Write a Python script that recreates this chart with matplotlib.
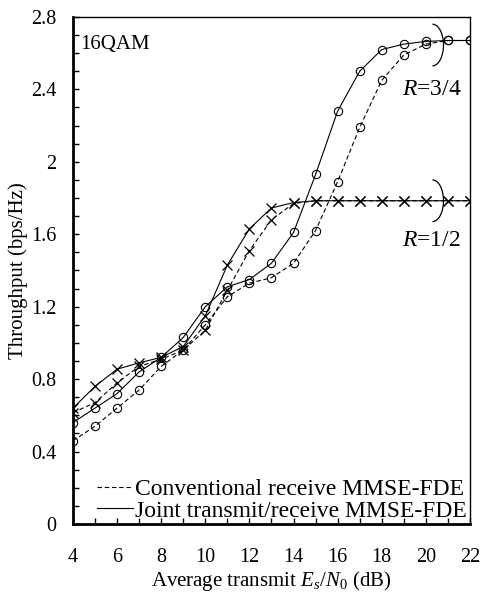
import numpy as np
import matplotlib
matplotlib.use("Agg")
from matplotlib import pyplot as plt
from matplotlib.lines import Line2D
from matplotlib.patches import Arc
from matplotlib.ticker import MultipleLocator, FuncFormatter

plt.rcParams["font.family"] = ["Liberation Serif", "DejaVu Serif"]
plt.rcParams["mathtext.fontset"] = "custom"
plt.rcParams["mathtext.rm"] = "Liberation Serif"
plt.rcParams["mathtext.it"] = "Liberation Serif:italic"

# Es/N0 grid in dB
snr_db = [4, 5, 6, 7, 8, 9, 10, 11, 12, 13, 14, 15, 16, 17, 18, 19, 20, 21, 22]

# R=3/4
conv_r34 = [0.46, 0.54, 0.64, 0.74, 0.87, 0.96, 1.10, 1.255, 1.33, 1.36, 1.44, 1.62,
            1.89, 2.19, 2.45, 2.59, 2.65, 2.67, 2.67]
joint_r34 = [0.56, 0.64, 0.72, 0.84, 0.92, 1.03, 1.20, 1.31, 1.35, 1.44, 1.61, 1.93,
             2.28, 2.50, 2.62, 2.65, 2.665, 2.67, 2.67]

# R=1/2
conv_r12 = [0.615, 0.67, 0.78, 0.87, 0.91, 0.96, 1.07, 1.29, 1.51, 1.68, 1.77, 1.785,
            1.785, 1.785, 1.785, 1.785, 1.785, 1.785, 1.785]
joint_r12 = [0.64, 0.76, 0.855, 0.89, 0.92, 0.98, 1.15, 1.43, 1.63, 1.745, 1.775, 1.785,
             1.785, 1.785, 1.785, 1.785, 1.785, 1.785, 1.785]

legend_labels = ["Conventional receive MMSE-FDE", "Joint transmit/receive MMSE-FDE"]

DASH = (0, (4, 2.5))
LW = 0.8

fig = plt.figure(figsize=(4.84, 5.93), dpi=100)
ax = fig.add_axes([0.1508, 0.1164, 0.8202, 0.855])

circ = dict(marker="o", markersize=6.0, markerfacecolor="none", markeredgecolor="black",
            markeredgewidth=0.8, color="black", linewidth=LW)
cross = dict(marker="x", markersize=7, markeredgecolor="black", markeredgewidth=0.9,
             color="black", linewidth=LW)

ax.plot(snr_db, conv_r12, linestyle=DASH, **cross)
ax.plot(snr_db, joint_r12, linestyle="-", **cross)
ax.plot(snr_db, conv_r34, linestyle=DASH, **circ)
ax.plot(snr_db, joint_r34, linestyle="-", **circ)

# brackets grouping the two curves of each code rate
for yc in (2.645, 1.785):
    ax.add_patch(Arc((20.3, yc), 1.0, 0.23, theta1=-90, theta2=90,
                     color="black", linewidth=0.9, clip_on=False))

ax.text(18.9, 2.40, "$R$=3/4", fontsize=17, va="center", ha="left")
ax.text(18.9, 1.565, "$R$=1/2", fontsize=17, va="center", ha="left")
ax.text(0.018, 0.945, "16QAM", transform=ax.transAxes, fontsize=15, va="center", ha="left")

ax.set_xlim(4, 22)
ax.set_ylim(0, 2.8)
ax.xaxis.set_major_locator(MultipleLocator(2))
ax.xaxis.set_minor_locator(MultipleLocator(1))
ax.yaxis.set_major_locator(MultipleLocator(0.4))
ax.yaxis.set_minor_locator(MultipleLocator(0.1))
ax.yaxis.set_major_formatter(FuncFormatter(lambda v, p: f"{v:g}"))

ax.tick_params(axis="both", which="both", direction="in", top=False, right=False,
               labelsize=14.5, width=1.0)
ax.tick_params(axis="both", which="major", length=4)
ax.tick_params(axis="both", which="minor", length=4)
ax.tick_params(axis="x", which="major", pad=17)
ax.tick_params(axis="y", which="major", pad=12)

for side in ("left", "bottom"):
    ax.spines[side].set_linewidth(2.0)
for side in ("top", "right"):
    ax.spines[side].set_linewidth(1.0)

ax.set_xlabel("Average transmit $E_s$/$N_0$ (dB)", fontsize=15, labelpad=2)
ax.set_ylabel("Throughput (bps/Hz)", fontsize=15, labelpad=2)

handles = [Line2D([], [], color="black", linestyle=DASH, linewidth=LW),
           Line2D([], [], color="black", linestyle="-", linewidth=LW)]
ax.legend(handles, legend_labels, loc="lower left", bbox_to_anchor=(0.055, 0.0),
          frameon=False, fontsize=17, handlelength=1.5, handletextpad=0.1,
          borderpad=0.1, borderaxespad=0.0, labelspacing=0.0)

fig.savefig("out.png", dpi=100)
